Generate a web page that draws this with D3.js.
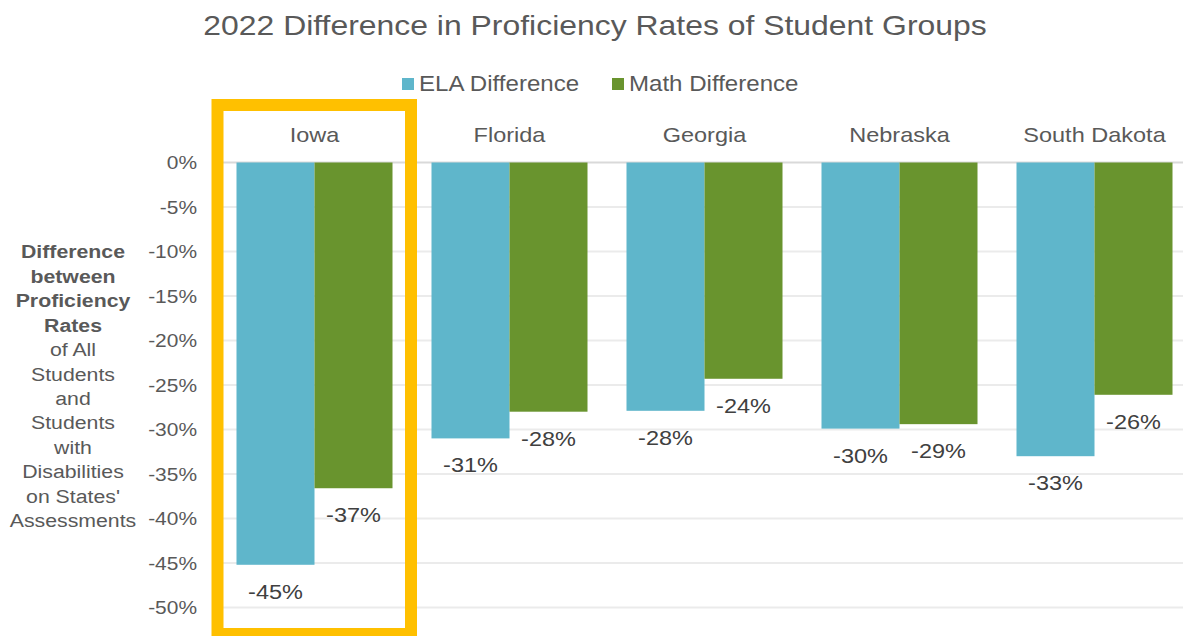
<!DOCTYPE html>
<html>
<head>
<meta charset="utf-8">
<script src="https://cdn.jsdelivr.net/npm/d3@7"></script>
<style>
  body { margin: 0; background: #fff; }
  text { font-family: "Liberation Sans", Arial, sans-serif; fill: #595959; }
</style>
</head>
<body>
<div id="chart"></div>
<script>
const states = ['Iowa', 'Florida', 'Georgia', 'Nebraska', 'South Dakota'];
const seriesNames = ['ELA Difference', 'Math Difference'];
const elaValues = [-45.2, -31.0, -27.9, -29.9, -33.0];
const mathValues = [-36.6, -28.0, -24.3, -29.4, -26.1];
const yTicks = [0, -5, -10, -15, -20, -25, -30, -35, -40, -45, -50];
const axisTitleBold = ['Difference', 'between', 'Proficiency', 'Rates'];
const axisTitleNormal = ['of All', 'Students', 'and', 'Students', 'with', 'Disabilities', "on States'", 'Assessments'];
const highlighted = 'Iowa';

const width = 1183,
      height = 636,
      stretch = 1.12;   // text in the source is a bit wide

const colors = ['#5fb6cb', '#69942e'];

const svg = d3.select('#chart')
              .append('svg')
              .attr('width', width)
              .attr('height', height);

// text helper, stretched horizontally around its anchor
function label(parent, x, y, str, size, anchor) {
  return parent.append('text')
               .attr('transform', 'translate(' + x + ',' + y + ') scale(' + stretch + ',1)')
               .attr('text-anchor', anchor || 'middle')
               .style('font-size', size + 'px')
               .text(str);
}

const xScale = d3.scaleBand()
                 .domain(states)
                 .range([217, 1192])
                 .paddingInner(0.2)
                 .paddingOuter(0.1);

const xSub = d3.scaleBand()
               .domain([0, 1])
               .range([0, xScale.bandwidth()]);

const yScale = d3.scaleLinear()
                 .domain([0, -50])
                 .range([162.5, 607.5]);

// gridlines
svg.append('g')
   .selectAll('line')
   .data(yTicks)
   .enter()
   .append('line')
   .attr('x1', 217)
   .attr('x2', width)
   .attr('y1', d => yScale(d))
   .attr('y2', d => yScale(d))
   .attr('stroke', d => d === 0 ? '#d9d9d9' : '#ebebeb')
   .attr('stroke-width', 2);

// y tick labels
const yAxisGroup = svg.append('g');
yTicks.forEach(function(t) {
  label(yAxisGroup, 197, yScale(t) + 6.5, t + '%', 18.7, 'end');
});

// y axis title
const titleGroup = svg.append('g');
axisTitleBold.concat(axisTitleNormal).forEach(function(line, i) {
  label(titleGroup, 73, 258.3 + i * 24.45, line, 19)
    .style('font-weight', i < axisTitleBold.length ? 'bold' : 'normal');
});

// bars
const rows = states.map((s, i) => ({ state: s, values: [elaValues[i], mathValues[i]] }));

const groups = svg.append('g')
                  .selectAll('g')
                  .data(rows)
                  .enter()
                  .append('g')
                  .attr('transform', d => 'translate(' + xScale(d.state) + ',0)');

groups.selectAll('rect')
      .data(d => d.values)
      .enter()
      .append('rect')
      .attr('x', (d, i) => xSub(i))
      .attr('y', yScale(0))
      .attr('width', xSub.bandwidth())
      .attr('height', d => yScale(d) - yScale(0))
      .attr('fill', (d, i) => colors[i]);

groups.each(function(d) {
  const g = d3.select(this);
  d.values.forEach(function(v, i) {
    label(g, xSub(i) + xSub.bandwidth() / 2, yScale(v) + 34, Math.round(v) + '%', 21)
      .style('fill', '#404040');
  });
});

// category labels on top
const catGroup = svg.append('g');
states.forEach(function(s) {
  label(catGroup, xScale(s) + xScale.bandwidth() / 2, 142, s, 21);
});

// highlight box
const step = xScale.step();
svg.append('rect')
   .attr('x', xScale(highlighted) - step * 0.1 + 0.5)
   .attr('y', 105)
   .attr('width', step - 1.5)
   .attr('height', 529)
   .attr('fill', 'none')
   .attr('stroke', '#ffc000')
   .attr('stroke-width', 12);

// legend
const legendX = [402, 612];
const legend = svg.append('g');
seriesNames.forEach(function(name, i) {
  legend.append('rect')
        .attr('x', legendX[i])
        .attr('y', 78)
        .attr('width', 12)
        .attr('height', 12)
        .attr('fill', colors[i]);
  label(legend, legendX[i] + 17, 91, name, 21.5, 'start');
});

// chart title
label(svg, 595, 35, '2022 Difference in Proficiency Rates of Student Groups', 28.5);
</script>
</body>
</html>
